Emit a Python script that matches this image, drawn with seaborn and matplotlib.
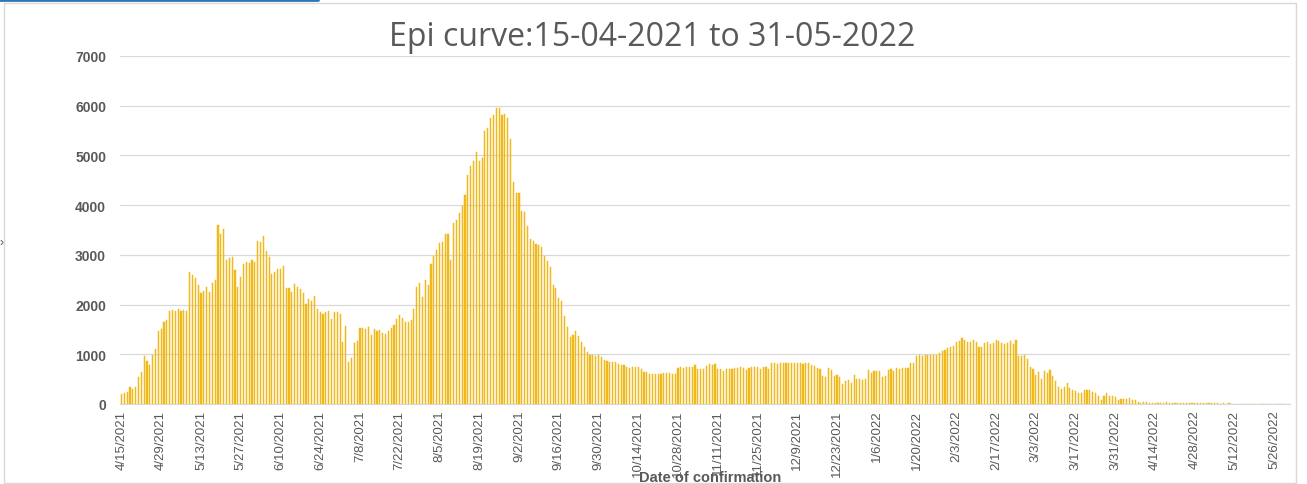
import pandas as pd
import seaborn as sns
import matplotlib.pyplot as plt
from matplotlib.patches import Rectangle
from matplotlib.lines import Line2D

# Daily confirmed cases (15-04-2021 .. 31-05-2022)
wave_apr_jun = [200, 220, 247, 333, 300, 347, 553, 653, 960, 873,
                780, 987, 1100, 1460, 1507, 1640, 1693, 1880, 1900, 1880,
                1913, 1873, 1887, 1873, 2653, 2593, 2540, 2393, 2240, 2273,
                2353, 2260, 2433, 2493, 3600, 3420, 3513, 2887, 2933, 2953,
                2700, 2353, 2553, 2813, 2860, 2833, 2887, 2847, 3273, 3260,
                3387, 3080, 2953, 2620, 2660, 2713, 2713, 2767, 2333, 2333,
                2260, 2413, 2353, 2313, 2227, 2007, 2113, 2080, 2180, 1920,
                1860]
trough_jul = [1813, 1847, 1880, 1700, 1847, 1853, 1807, 1240, 1560, 853,
              920, 1233, 1260, 1520, 1533, 1500, 1547, 1393, 1513, 1467,
              1493, 1433, 1407, 1467, 1533, 1587, 1700, 1800, 1720, 1653,
              1653, 1693, 1920, 2347, 2440, 2160, 2500, 2400, 2813, 2967,
              3100, 3233, 3267, 3427, 3427, 2900, 3647, 3700, 3847, 3980]
peak_aug_sep = [4214, 4610, 4791, 4892, 5067, 4892, 4946, 5483, 5550, 5758,
                5805, 5960, 5953, 5805, 5838, 5758, 5335, 4463, 4235, 4242,
                3886, 3859, 3584, 3329, 3282, 3215, 3208, 3148, 2973, 2879,
                2765, 2389, 2336, 2141, 2067, 1778, 1557, 1356, 1389, 1463,
                1376, 1242, 1154, 1053]
plateau_oct_nov = [993, 993, 967, 980, 940, 893, 860, 853, 853, 853,
                   813, 787, 787, 740, 733, 740, 740, 740, 713, 653,
                   640, 600, 600, 613, 613, 613, 627, 627, 627, 613,
                   600, 733, 740, 720, 740, 753, 753, 780, 713, 713,
                   713, 773, 813, 787, 813, 700, 700, 673, 713, 700,
                   713]
winter_dec_jan = [725, 725, 745, 718, 685, 725, 745, 745, 738, 711,
                  738, 745, 711, 832, 819, 799, 819, 826, 826, 819,
                  826, 826, 826, 826, 799, 819, 832, 792, 772, 725,
                  711, 557, 537, 725, 685, 564, 577, 537, 403, 463,
                  490, 416, 577, 503, 503, 490, 503, 685, 631, 664,
                  664, 664, 550, 570, 685, 705, 664, 725, 711, 725,
                  718, 725, 832, 826, 973, 993, 973, 987, 987, 993,
                  987, 987, 1020, 1074, 1087, 1134, 1154]
wave_feb_mar = [1174, 1242, 1275, 1322, 1289, 1242, 1255, 1289, 1255, 1141,
                1141, 1228, 1242, 1215, 1228, 1289, 1262, 1228, 1208, 1235,
                1268, 1201, 1289, 973, 960, 993, 906, 738, 698, 584,
                638, 503, 664, 631, 678, 570, 470, 336, 302, 342,
                423, 322, 289, 268, 221, 221, 289, 289, 289, 235,
                215, 168, 81, 154, 215, 161]
tail_apr_may = [161, 141, 87, 101, 101, 101, 114, 81, 81, 47,
                20, 47, 47, 20, 20, 20, 20, 25, 30, 35,
                30, 30, 25, 30, 25, 20, 20, 25, 20, 25,
                20, 20, 15, 20, 15, 15, 20, 15, 10, 15,
                10, 15, 10, 10, 0, 0, 0, 0, 10, 10,
                0, 0, 0, 0, 10, 0, 10, 0, 0, 0,
                0, 0, 0]

cases = (wave_apr_jun + trough_jul + peak_aug_sep + plateau_oct_nov
         + winter_dec_jan + wave_feb_mar + tail_apr_may)
dates = pd.date_range("2021-04-15", periods=len(cases), freq="D")
date_labels = [f"{d.month}/{d.day}/{d.year}" for d in dates]

df = pd.DataFrame({"day": range(len(cases)), "cases": cases})

sns.set_style("white")
plt.rcParams['font.family'] = ['Liberation Sans', 'DejaVu Sans']

fig = plt.figure(figsize=(13.07, 4.85), dpi=100)
ax = fig.add_axes([120 / 1307, 1 - 405 / 485, 1170 / 1307, 348 / 485])

bar_col = "#F0B91A"
sns.barplot(data=df, x="day", y="cases", color=bar_col, saturation=1,
            width=0.4, errorbar=None, ax=ax, zorder=3,
            edgecolor=bar_col, linewidth=0.35)

grey = "#595959"
ax.set_ylim(0, 7000)
ax.set_yticks(range(0, 7001, 1000))
ax.set_yticklabels([str(v) for v in range(0, 7001, 1000)],
                   fontsize=10, fontweight="bold", color=grey)
ax.set_xlim(-0.5, len(cases) - 0.5)
tick_pos = list(range(0, len(cases), 14))
ax.set_xticks(tick_pos)
ax.set_xticklabels([date_labels[i] for i in tick_pos], rotation=90,
                   fontsize=9.5, color=grey)
ax.tick_params(axis="both", length=0)
ax.tick_params(axis="y", pad=10)
ax.tick_params(axis="x", pad=4)
ax.grid(axis="y", color="#D9D9D9", linewidth=0.9, zorder=0)
ax.set_axisbelow(True)
for side in ["top", "right", "left"]:
    ax.spines[side].set_visible(False)
ax.spines["bottom"].set_color("#D9D9D9")
ax.set_xlabel("")
ax.set_ylabel("")

fig.text(0.499, 1 - 38 / 485, "Epi curve:15-04-2021 to 31-05-2022",
         ha="center", va="center", fontsize=23, color=grey,
         family=["Open Sans", "DejaVu Sans"])
fig.text(710 / 1307, 1 - 478 / 485, "Date of confirmation",
         ha="center", va="center", fontsize=10.5, fontweight="bold", color=grey)

# chart frame and window chrome
fig.patches.append(Rectangle((4 / 1307, 1 / 485), 1292 / 1307, 480 / 485,
                             transform=fig.transFigure, fill=False,
                             edgecolor="#D9D9D9", linewidth=1))
fig.lines.append(Line2D([0, 318 / 1307], [1 - 1 / 485, 1 - 1 / 485],
                        transform=fig.transFigure, color="#2E75B6", linewidth=2))
fig.text(0.0, 1 - 243 / 485, "›", ha="left", va="center", fontsize=9, color=grey)

fig.savefig("out.png", dpi=100)
